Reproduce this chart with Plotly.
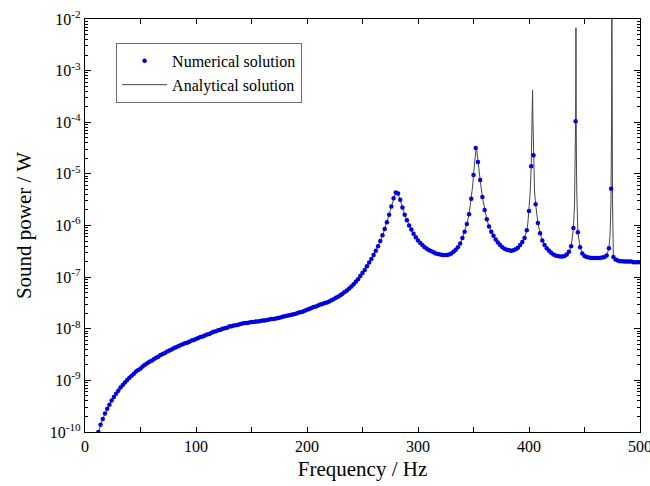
import plotly.graph_objects as go

# Numerical solution: sampled every 2 Hz from 12 Hz to 500 Hz
num_freq = list(range(12, 502, 2))
num_power = [
    1.00e-10, 1.38e-10, 1.78e-10, 2.29e-10, 2.82e-10, 3.39e-10, 4.07e-10, 4.79e-10, 5.50e-10, 6.31e-10,  # 12-30
    7.24e-10, 8.13e-10, 9.12e-10, 1.02e-9, 1.12e-9, 1.23e-9, 1.35e-9, 1.48e-9, 1.58e-9, 1.70e-9,          # 32-50
    1.86e-9, 2.00e-9, 2.14e-9, 2.29e-9, 2.40e-9, 2.57e-9, 2.75e-9, 2.88e-9, 3.09e-9, 3.24e-9,             # 52-70
    3.39e-9, 3.63e-9, 3.80e-9, 3.98e-9, 4.17e-9, 4.37e-9, 4.57e-9, 4.79e-9, 5.01e-9, 5.25e-9,             # 72-90
    5.37e-9, 5.62e-9, 5.89e-9, 6.03e-9, 6.31e-9, 6.61e-9, 6.92e-9, 7.08e-9, 7.41e-9, 7.76e-9,             # 92-110
    7.94e-9, 8.32e-9, 8.71e-9, 8.91e-9, 9.33e-9, 9.55e-9, 1.00e-8, 1.02e-8, 1.05e-8, 1.10e-8,             # 112-130
    1.12e-8, 1.15e-8, 1.17e-8, 1.20e-8, 1.23e-8, 1.26e-8, 1.29e-8, 1.29e-8, 1.32e-8, 1.35e-8,             # 132-150
    1.35e-8, 1.38e-8, 1.38e-8, 1.41e-8, 1.45e-8, 1.45e-8, 1.48e-8, 1.51e-8, 1.55e-8, 1.55e-8,             # 152-170
    1.58e-8, 1.62e-8, 1.66e-8, 1.70e-8, 1.74e-8, 1.78e-8, 1.82e-8, 1.86e-8, 1.91e-8, 1.95e-8,             # 172-190
    2.04e-8, 2.09e-8, 2.14e-8, 2.24e-8, 2.34e-8, 2.40e-8, 2.51e-8, 2.63e-8, 2.69e-8, 2.82e-8,             # 192-210
    2.95e-8, 3.02e-8, 3.16e-8, 3.24e-8, 3.39e-8, 3.55e-8, 3.72e-8, 3.98e-8, 4.17e-8, 4.47e-8,             # 212-230
    4.79e-8, 5.13e-8, 5.50e-8, 6.03e-8, 6.61e-8, 7.24e-8, 8.13e-8, 9.12e-8, 1.05e-7, 1.20e-7,             # 232-250
    1.38e-7, 1.62e-7, 1.91e-7, 2.24e-7, 2.69e-7, 3.24e-7, 3.98e-7, 5.01e-7, 6.46e-7, 8.51e-7,             # 252-270
    1.15e-6, 1.62e-6, 2.34e-6, 3.39e-6, 4.37e-6, 4.17e-6, 3.16e-6, 2.24e-6, 1.62e-6, 1.26e-6,             # 272-290
    1.00e-6, 8.32e-7, 6.92e-7, 5.89e-7, 5.13e-7, 4.57e-7, 4.17e-7, 3.80e-7, 3.55e-7, 3.31e-7,             # 292-310
    3.16e-7, 3.02e-7, 2.88e-7, 2.82e-7, 2.75e-7, 2.69e-7, 2.69e-7, 2.69e-7, 2.75e-7, 2.88e-7,             # 312-330
    3.09e-7, 3.39e-7, 3.80e-7, 4.47e-7, 5.75e-7, 7.59e-7, 1.07e-6, 1.66e-6, 3.31e-6, 9.55e-6,             # 332-350
    3.16e-5, 1.70e-5, 7.59e-6, 3.55e-6, 2.00e-6, 1.32e-6, 9.55e-7, 7.59e-7, 6.31e-7, 5.37e-7,             # 352-370
    4.68e-7, 4.17e-7, 3.80e-7, 3.55e-7, 3.39e-7, 3.31e-7, 3.24e-7, 3.31e-7, 3.47e-7, 3.72e-7,             # 372-390
    4.17e-7, 4.79e-7, 5.75e-7, 8.13e-7, 1.91e-6, 1.41e-5, 2.29e-5, 2.57e-6, 1.12e-6, 7.08e-7,             # 392-410
    5.13e-7, 4.17e-7, 3.63e-7, 3.24e-7, 2.95e-7, 2.75e-7, 2.63e-7, 2.57e-7, 2.51e-7, 2.51e-7,             # 412-430
    2.57e-7, 2.75e-7, 3.09e-7, 3.98e-7, 8.91e-7, 1.05e-4, 7.41e-7, 3.80e-7, 2.88e-7, 2.57e-7,             # 432-450
    2.45e-7, 2.40e-7, 2.34e-7, 2.34e-7, 2.34e-7, 2.34e-7, 2.34e-7, 2.40e-7, 2.45e-7, 2.63e-7,             # 452-470
    3.63e-7, 5.13e-6, 2.45e-7, 2.19e-7, 2.09e-7, 2.04e-7, 2.04e-7, 2.00e-7, 2.00e-7, 2.00e-7,             # 472-490
    2.00e-7, 1.95e-7, 1.95e-7, 1.95e-7, 1.95e-7,                                                           # 492-500
]

# Analytical solution
ana_freq = [
    12, 16, 20, 24, 28, 32, 36, 40, 44, 48, 52, 56, 60, 64, 68, 72, 76, 80, 84, 88, 92, 96,
    100, 104, 108, 112, 116, 120, 124, 128, 132, 136, 140, 144, 148, 152, 156, 160, 164, 168,
    172, 176, 180, 184, 188, 192, 196, 200, 204, 208, 212, 216, 220, 224, 228, 232, 236, 240,
    244, 248, 252, 256, 260, 263, 266, 269, 272, 274, 276, 278, 279, 280, 281, 282, 283, 284,
    286, 288, 290, 293, 296, 300, 304, 308, 312, 316, 320, 324, 328, 332, 336, 338, 340, 342,
    344, 346, 348, 349, 350, 351, 352, 352.5, 353, 354, 355, 356, 358, 360, 362, 364, 367, 370,
    374, 378, 382, 386, 390, 394, 396, 398, 399, 400, 401, 402, 402.5, 403, 403.2, 403.5, 404,
    404.5, 405, 406, 408, 410, 412, 416, 420, 424, 428, 432, 436, 438, 440, 441, 441.8, 442,
    442.2, 442.3, 442.4, 442.6, 443, 444, 446, 448, 452, 456, 460, 464, 468, 470, 472, 473,
    473.8, 474, 474.4, 474.6, 474.8, 475.2, 476, 478, 482, 486, 490, 494, 500,
]
ana_power = [
    1.00e-10, 1.78e-10, 2.82e-10, 4.07e-10, 5.50e-10, 7.24e-10, 9.12e-10, 1.12e-9, 1.35e-9, 1.58e-9,
    1.86e-9, 2.14e-9, 2.40e-9, 2.75e-9, 3.09e-9, 3.39e-9, 3.80e-9, 4.17e-9, 4.57e-9, 5.01e-9,
    5.37e-9, 5.89e-9,
    6.31e-9, 6.92e-9, 7.41e-9, 7.94e-9, 8.71e-9, 9.33e-9, 1.00e-8, 1.05e-8, 1.12e-8, 1.17e-8,
    1.23e-8, 1.29e-8, 1.32e-8, 1.35e-8, 1.38e-8, 1.45e-8, 1.48e-8, 1.55e-8,
    1.58e-8, 1.66e-8, 1.74e-8, 1.82e-8, 1.91e-8, 2.04e-8, 2.14e-8, 2.34e-8, 2.51e-8, 2.69e-8,
    2.95e-8, 3.16e-8, 3.39e-8, 3.72e-8, 4.17e-8, 4.79e-8, 5.50e-8, 6.61e-8,
    8.13e-8, 1.05e-7, 1.38e-7, 1.91e-7, 2.69e-7, 3.55e-7, 5.01e-7, 7.41e-7, 1.15e-6, 1.62e-6,
    2.34e-6, 3.39e-6, 3.98e-6, 4.37e-6, 4.47e-6, 4.17e-6, 3.63e-6, 3.16e-6,
    2.24e-6, 1.62e-6, 1.26e-6, 9.12e-7, 6.92e-7, 5.13e-7, 4.17e-7, 3.55e-7, 3.16e-7, 2.88e-7,
    2.75e-7, 2.69e-7, 2.75e-7, 3.09e-7, 3.80e-7, 4.47e-7, 5.75e-7, 7.59e-7,
    1.07e-6, 1.66e-6, 3.31e-6, 5.25e-6, 9.55e-6, 1.78e-5, 3.16e-5, 3.47e-5, 2.82e-5, 1.70e-5,
    1.10e-5, 7.59e-6, 3.55e-6, 2.00e-6, 1.32e-6, 9.55e-7, 6.92e-7, 5.37e-7,
    4.17e-7, 3.55e-7, 3.31e-7, 3.31e-7, 3.72e-7, 4.79e-7, 5.75e-7, 8.13e-7, 1.12e-6, 1.91e-6,
    4.17e-6, 1.41e-5, 3.98e-5, 2.00e-4, 4.17e-4, 1.26e-4, 2.29e-5,
    7.94e-6, 4.47e-6, 2.57e-6, 1.12e-6, 7.08e-7, 5.13e-7, 3.63e-7, 2.95e-7, 2.63e-7, 2.51e-7,
    2.57e-7, 3.09e-7, 3.98e-7, 8.91e-7, 2.51e-6, 2.51e-5, 1.05e-4,
    7.94e-4, 6.76e-3, 7.94e-4, 3.98e-5, 5.01e-6, 7.41e-7, 3.80e-7, 2.88e-7, 2.45e-7, 2.34e-7,
    2.34e-7, 2.34e-7, 2.45e-7, 2.63e-7, 3.63e-7, 6.31e-7,
    2.51e-6, 5.13e-6, 1.00e-4, 1.00e-1, 1.00e-4, 3.16e-6, 2.45e-7, 2.19e-7, 2.04e-7, 2.00e-7,
    2.00e-7, 1.95e-7, 1.95e-7,
]

x_ticks = [0, 100, 200, 300, 400, 500]
x_minor_ticks = [50, 150, 250, 350, 450]

y_exponents = [-10, -9, -8, -7, -6, -5, -4, -3, -2]
y_tickvals = [10.0 ** e for e in y_exponents]
y_ticktext = ["10<sup>%d</sup>" % e for e in y_exponents]
y_minor = [k * 10.0 ** e for e in y_exponents[:-1] for k in range(2, 10)]

FONT = "Liberation Serif, Times New Roman, serif"

fig = go.Figure()
fig.add_trace(go.Scatter(
    x=ana_freq, y=ana_power, mode="lines", name="Analytical solution",
    line=dict(color="rgb(70,70,70)", width=1), legendrank=2,
))
fig.add_trace(go.Scatter(
    x=num_freq, y=num_power, mode="markers", name="Numerical solution",
    marker=dict(color="rgb(0,0,225)", size=4.5), legendrank=1,
))

axis_common = dict(
    showline=True, linecolor="black", linewidth=1.3, mirror="ticks",
    ticks="inside", tickcolor="black", tickwidth=1, showgrid=False, zeroline=False,
    tickfont=dict(family=FONT, size=16, color="black"),
    ticklabeloverflow="allow",
)

fig.update_layout(
    width=650, height=486,
    margin=dict(l=85, r=10, t=19, b=54, autoexpand=False),
    paper_bgcolor="white", plot_bgcolor="white",
    font=dict(family=FONT, color="black"),
    xaxis=dict(
        range=[0, 500], tickmode="array", tickvals=x_ticks,
        ticktext=[str(v) for v in x_ticks], ticklen=5,
        minor=dict(ticks="inside", tickvals=x_minor_ticks, ticklen=5, tickcolor="black"),
        title=dict(text="Frequency / Hz", font=dict(family=FONT, size=21), standoff=6),
        **axis_common,
    ),
    yaxis=dict(
        type="log", range=[-10, -2], tickmode="array", tickvals=y_tickvals,
        ticktext=y_ticktext, ticklen=6,
        minor=dict(ticks="inside", tickvals=y_minor, ticklen=3, tickcolor="black"),
        title=dict(text="Sound power / W", font=dict(family=FONT, size=21), standoff=12),
        **axis_common,
    ),
    legend=dict(
        x=0.056, y=0.942, xanchor="left", yanchor="top",
        bgcolor="white", bordercolor="rgb(110,110,110)", borderwidth=1,
        font=dict(family=FONT, size=16, color="black"),
        itemwidth=45, tracegroupgap=0,
    ),
    showlegend=True,
)

fig.write_html("out.html")
